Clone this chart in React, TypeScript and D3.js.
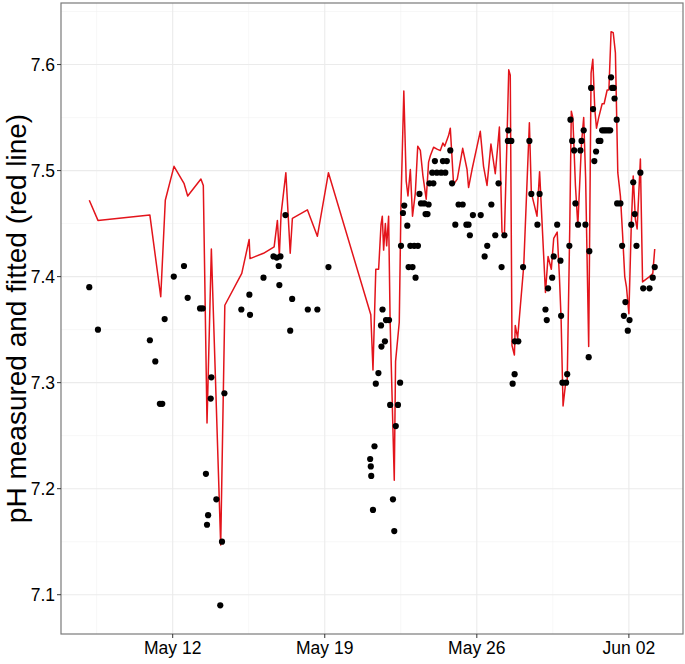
import React from "react";
import * as d3 from "d3";

// Observations (day of May, decimal; >31 = June)
const pointDays = [
  8.16, 8.56, 10.95, 11.2, 11.41, 11.52, 11.63, 12.05, 12.52, 12.69, 13.26, 13.38, 13.53, 13.58, 13.63,
  13.75, 13.78, 14.01, 14.19, 14.27, 14.38, 15.16, 15.53, 15.56, 16.18, 16.64, 16.79, 16.88, 16.91, 16.96,
  17.19, 17.41, 17.5, 18.22, 18.66, 19.17, 21.09, 21.12, 21.14, 21.22, 21.29, 21.35, 21.47, 21.59, 21.61,
  21.66, 21.77, 21.82, 21.96, 22.01, 22.14, 22.2, 22.27, 22.37, 22.47, 22.51, 22.6, 22.66, 22.8, 22.86,
  22.94, 23.04, 23.12, 23.18, 23.29, 23.36, 23.43, 23.58, 23.64, 23.73, 23.78, 23.82, 23.95, 24.0, 24.07,
  24.16, 24.36, 24.44, 24.55, 24.62, 24.78, 24.86, 25.01, 25.16, 25.35, 25.52, 25.62, 25.68, 25.82, 26.18,
  26.36, 26.48, 26.67, 26.85, 27.0, 27.14, 27.27, 27.43, 27.45, 27.59, 27.65, 27.74, 27.75, 27.91, 28.13,
  28.42, 28.51, 28.79, 28.89, 29.16, 29.22, 29.28, 29.47, 29.54, 29.7, 29.85, 29.88, 29.94, 30.11, 30.16,
  30.26, 30.31, 30.39, 30.48, 30.54, 30.66, 30.77, 30.82, 30.92, 31.0, 31.15, 31.18, 31.26, 31.35, 31.41,
  31.49, 31.61, 31.69, 31.77, 31.86, 31.95, 32.05, 32.14, 32.18, 32.23, 32.3, 32.34, 32.44, 32.46, 32.61,
  32.69, 32.77, 32.84, 32.95, 33.03, 33.11, 33.2, 33.27, 33.35, 33.53, 33.66, 33.95, 34.1, 34.19,
];
const pointPH = [
  7.39, 7.35, 7.34, 7.32, 7.28, 7.28, 7.36, 7.4, 7.41, 7.38, 7.37, 7.37, 7.214, 7.166, 7.175,
  7.285, 7.305, 7.19, 7.09, 7.15, 7.29, 7.369, 7.383, 7.364, 7.399, 7.419, 7.418, 7.41, 7.392, 7.419,
  7.458, 7.349, 7.379, 7.369, 7.369, 7.409, 7.228, 7.221, 7.212, 7.18, 7.24, 7.299, 7.309, 7.354, 7.334,
  7.369, 7.339, 7.359, 7.359, 7.279, 7.19, 7.16, 7.259, 7.279, 7.3, 7.429, 7.46, 7.467, 7.448, 7.409,
  7.429, 7.409, 7.429, 7.399, 7.429, 7.478, 7.469, 7.469, 7.459, 7.459, 7.468, 7.488, 7.498, 7.488, 7.509,
  7.498, 7.498, 7.509, 7.498, 7.509, 7.519, 7.488, 7.449, 7.468, 7.468, 7.449, 7.449, 7.439, 7.458, 7.458,
  7.419, 7.429, 7.468, 7.439, 7.488, 7.409, 7.439, 7.528, 7.538, 7.528, 7.299, 7.308, 7.339, 7.339, 7.409,
  7.528, 7.478, 7.449, 7.478, 7.369, 7.359, 7.389, 7.399, 7.419, 7.449, 7.415, 7.363, 7.3, 7.3, 7.308,
  7.429, 7.548, 7.528, 7.519, 7.469, 7.449, 7.519, 7.528, 7.538, 7.449, 7.324, 7.424, 7.578, 7.558, 7.509,
  7.518, 7.528, 7.528, 7.538, 7.538, 7.538, 7.538, 7.538, 7.588, 7.578, 7.578, 7.568, 7.548, 7.469, 7.469,
  7.429, 7.363, 7.376, 7.349, 7.359, 7.449, 7.489, 7.459, 7.429, 7.498, 7.389, 7.389, 7.399, 7.409,
];

// Fitted curve (red line)
const lineDays = [
  8.16, 8.56, 10.95, 11.45, 11.66, 12.06, 12.52, 12.69, 13.3, 13.41, 13.58, 13.78, 14.21, 14.4, 15.18,
  15.52, 15.56, 16.18, 16.67, 16.82, 16.91, 16.99, 17.21, 17.41, 17.51, 18.2, 18.66, 19.17, 21.12, 21.22,
  21.35, 21.48, 21.59, 21.65, 21.71, 21.79, 21.85, 21.94, 22.01, 22.2, 22.26, 22.43, 22.51, 22.64, 22.75,
  22.83, 22.94, 23.04, 23.17, 23.28, 23.4, 23.52, 23.67, 23.78, 23.86, 24.01, 24.19, 24.32, 24.44, 24.52,
  24.7, 24.78, 24.93, 25.1, 25.35, 25.55, 25.62, 25.78, 26.16, 26.31, 26.47, 26.65, 26.85, 27.04, 27.16,
  27.27, 27.39, 27.47, 27.54, 27.62, 27.73, 27.77, 27.88, 28.16, 28.42, 28.51, 28.77, 28.89, 29.16, 29.28,
  29.43, 29.54, 29.7, 29.8, 29.88, 29.97, 30.08, 30.16, 30.28, 30.35, 30.42, 30.54, 30.65, 30.82, 30.92,
  31.01, 31.15, 31.26, 31.34, 31.43, 31.51, 31.61, 31.77, 31.86, 32.0, 32.08, 32.18, 32.28, 32.38, 32.49,
  32.61, 32.71, 32.81, 32.89, 33.0, 33.11, 33.2, 33.3, 33.38, 33.53, 33.63, 33.95, 34.1, 34.19,
];
const lineFit = [
  7.472, 7.453, 7.458, 7.381, 7.472, 7.504, 7.488, 7.476, 7.492, 7.486, 7.262, 7.426, 7.147, 7.373, 7.403,
  7.435, 7.417, 7.422, 7.428, 7.453, 7.42, 7.459, 7.498, 7.422, 7.455, 7.463, 7.438, 7.498, 7.364, 7.312,
  7.407, 7.407, 7.449, 7.457, 7.425, 7.45, 7.429, 7.457, 7.357, 7.208, 7.32, 7.357, 7.47, 7.575, 7.49,
  7.476, 7.501, 7.457, 7.479, 7.523, 7.519, 7.495, 7.473, 7.508, 7.514, 7.522, 7.52, 7.519, 7.526, 7.523,
  7.533, 7.54, 7.487, 7.492, 7.521, 7.501, 7.484, 7.501, 7.537, 7.504, 7.486, 7.525, 7.497, 7.541, 7.442,
  7.439, 7.53, 7.595, 7.59, 7.335, 7.326, 7.354, 7.342, 7.41, 7.545, 7.479, 7.457, 7.499, 7.385, 7.419,
  7.407, 7.436, 7.442, 7.401, 7.36, 7.278, 7.298, 7.3, 7.448, 7.556, 7.55, 7.486, 7.448, 7.526, 7.55,
  7.492, 7.334, 7.592, 7.605, 7.558, 7.54, 7.55, 7.563, 7.563, 7.576, 7.576, 7.631, 7.63, 7.611, 7.498,
  7.476, 7.44, 7.4, 7.39, 7.365, 7.448, 7.495, 7.454, 7.445, 7.511, 7.395, 7.4, 7.403, 7.426,
];

const yTicks = [7.1, 7.2, 7.3, 7.4, 7.5, 7.6];
const yMinor = [7.15, 7.25, 7.35, 7.45, 7.55, 7.65];
const xTickDays = [12, 19, 26, 33];
const xTickLabels = ["May 12", "May 19", "May 26", "Jun 02"];
const xMinorDays = [8.5, 15.5, 22.5, 29.5];
const yTitle = "pH measured and fitted (red line)";

const toDate = (d: number) => new Date(Date.UTC(2015, 4, 1) + (d - 1) * 864e5);

export default function App() {
  const W = 685, H = 664;
  const L = 61, R = 683, T = 3, B = 634;
  const font = "'Liberation Sans', Arial, Helvetica, sans-serif";

  const allDays = [...pointDays, ...lineDays];
  const allVals = [...pointPH, ...lineFit];
  const [dMin, dMax] = d3.extent(allDays) as [number, number];
  const [vMin, vMax] = d3.extent(allVals) as [number, number];
  const dPad = (dMax - dMin) * 0.05;
  const vPad = (vMax - vMin) * 0.05;

  const x = d3.scaleUtc().domain([toDate(dMin - dPad), toDate(dMax + dPad)]).range([L, R]);
  const y = d3.scaleLinear().domain([vMin - vPad, vMax + vPad]).range([B, T]);

  const line = d3
    .line<number>()
    .x((_, i) => x(toDate(lineDays[i])))
    .y((v) => y(v));

  return (
    <svg width={W} height={H} style={{ position: "absolute", left: 0, top: 0, background: "#fff" }} fontFamily={font}>
      <rect x={0} y={0} width={W} height={H} fill="#fff" />
      {yMinor.map((v) => (
        <line key={"ym" + v} x1={L} x2={R} y1={y(v)} y2={y(v)} stroke="#f2f2f2" strokeWidth={0.6} />
      ))}
      {xMinorDays.map((d) => (
        <line key={"xm" + d} x1={x(toDate(d))} x2={x(toDate(d))} y1={T} y2={B} stroke="#f2f2f2" strokeWidth={0.6} />
      ))}
      {yTicks.map((v) => (
        <line key={"yg" + v} x1={L} x2={R} y1={y(v)} y2={y(v)} stroke="#ebebeb" strokeWidth={1.1} />
      ))}
      {xTickDays.map((d) => (
        <line key={"xg" + d} x1={x(toDate(d))} x2={x(toDate(d))} y1={T} y2={B} stroke="#ebebeb" strokeWidth={1.1} />
      ))}
      <path d={line(lineFit) || ""} fill="none" stroke="#e3141b" strokeWidth={1.5} strokeLinejoin="round" />
      {pointPH.map((v, i) => (
        <circle key={"p" + i} cx={x(toDate(pointDays[i]))} cy={y(v)} r={3.1} fill="#000" />
      ))}
      <rect x={L} y={T} width={R - L} height={B - T} fill="none" stroke="#7a7a7a" strokeWidth={1.2} />
      {yTicks.map((v) => (
        <g key={"yt" + v}>
          <line x1={L - 4} x2={L} y1={y(v)} y2={y(v)} stroke="#333" strokeWidth={1} />
          <text x={L - 6} y={y(v)} dy="0.36em" textAnchor="end" fontSize={17.5} fill="#000">
            {v.toFixed(1)}
          </text>
        </g>
      ))}
      {xTickDays.map((d, i) => (
        <g key={"xt" + d}>
          <line x1={x(toDate(d))} x2={x(toDate(d))} y1={B} y2={B + 4} stroke="#333" strokeWidth={1} />
          <text x={x(toDate(d))} y={B + 20} textAnchor="middle" fontSize={17.5} fill="#000">
            {xTickLabels[i]}
          </text>
        </g>
      ))}
      <text
        transform={`translate(26, ${(T + B) / 2}) rotate(-90)`}
        textAnchor="middle"
        fontSize={28}
        fill="#000"
      >
        {yTitle}
      </text>
    </svg>
  );
}
